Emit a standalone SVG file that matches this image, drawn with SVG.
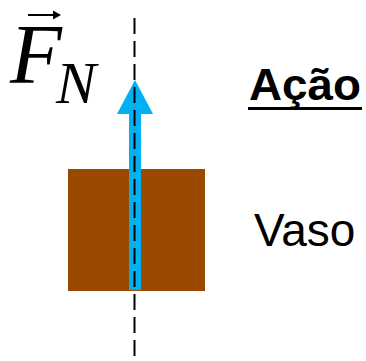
<svg xmlns="http://www.w3.org/2000/svg" width="366" height="361" viewBox="0 0 366 361">
<style>
.lbl{font-family:"Liberation Sans",Arial,sans-serif;fill:#000}
.math{font-family:"Liberation Serif","Times New Roman",serif;font-style:italic;fill:#000}
</style>
<rect width="366" height="361" fill="#fff"/>
<g id="vaso">
<rect x="68" y="169" width="137" height="122" fill="#994900"/>
</g>
<g id="connectors">
<rect x="129" y="112" width="12" height="178" fill="#00b0f0"/>
<polygon points="135,80 153,114 117,114" fill="#00b0f0"/>
<line x1="134.5" y1="18" x2="134.5" y2="361" stroke="#000" stroke-width="2" stroke-dasharray="16,7"/>
</g>
<g id="fn-label">
<text class="math" x="10" y="83" font-size="85">F<tspan x="56" y="103" font-size="60">N</tspan></text>
<line x1="28" y1="15" x2="56" y2="15" stroke="#000" stroke-width="2"/>
<polygon points="61,15 53,10.5 53,19.5" fill="#000"/>
</g>
<g id="acao">
<text class="lbl" x="249" y="100" font-size="44" font-weight="bold" textLength="112" lengthAdjust="spacingAndGlyphs">Ação</text>
<rect x="248" y="107" width="114" height="3" fill="#000"/>
</g>
<g id="vaso-label">
<text class="lbl" x="254" y="246" font-size="46">Vaso</text>
</g>
</svg>
